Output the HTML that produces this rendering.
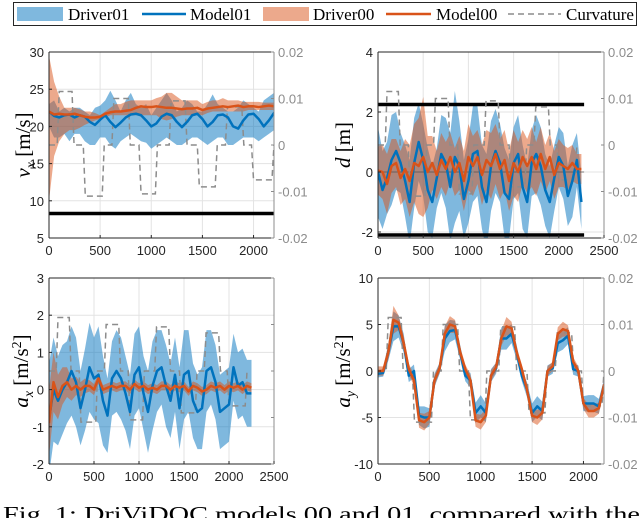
<!DOCTYPE html>
<html><head><meta charset="utf-8"><style>
html,body{margin:0;padding:0;background:#fff;overflow:hidden}
svg{display:block}
.tk{font-family:"Liberation Sans",sans-serif;font-size:13px}
</style></head><body>
<svg id="fig" width="640" height="518" viewBox="0 0 640 518" xmlns="http://www.w3.org/2000/svg">
<g>
<rect x="13.5" y="2.5" width="623" height="23" fill="#fff" stroke="#262626" stroke-width="1"/>
<rect x="17" y="7" width="46" height="14" fill="#0072bd" fill-opacity="0.5"/>
<text x="68" y="20" font-family="Liberation Serif,serif" font-size="17">Driver01</text>
<line x1="142" y1="14" x2="186" y2="14" stroke="#0072bd" stroke-width="2.5"/>
<text x="190" y="20" font-family="Liberation Serif,serif" font-size="17">Model01</text>
<rect x="263" y="7" width="46" height="14" fill="#d95319" fill-opacity="0.5"/>
<text x="313" y="20" font-family="Liberation Serif,serif" font-size="17">Driver00</text>
<line x1="386" y1="14" x2="431" y2="14" stroke="#d95319" stroke-width="2.5"/>
<text x="436" y="20" font-family="Liberation Serif,serif" font-size="17">Model00</text>
<line x1="508" y1="14" x2="561" y2="14" stroke="#8c8c8c" stroke-width="1.5" stroke-dasharray="6,4"/>
<text x="566" y="20" font-family="Liberation Serif,serif" font-size="17">Curvature</text>
</g>
<text x="3" y="521" font-family="Liberation Serif,serif" font-size="21" textLength="637" lengthAdjust="spacingAndGlyphs">Fig. 1: DriViDOC models 00 and 01, compared with the</text>
</svg>
<script>
const t = [0,50,100,150,200,250,300,350,400,450,500,550,600,650,700,750,800,850,900,950,1000,1050,1100,1150,1200,1250,1300,1350,1400,1450,1500,1550,1600,1650,1700,1750,1800,1850,1900,1950,2000,2050,2100,2150,2200,2250];
const curvT = [0,80,100,225,245,335,355,520,540,615,635,775,795,880,900,1040,1060,1175,1195,1330,1350,1450,1470,1625,1645,1725,1745,1885,1905,1980,2000,2180,2200];
const curvV = [0,0,0.0115,0.0115,0,0,-0.011,-0.011,0,0,0.01,0.01,0,0,-0.0105,-0.0105,0,0,0.0095,0.0095,0,0,-0.009,-0.009,0,0,0.0082,0.0082,0,0,-0.0075,-0.0075,0];

const vxModel01 = [22.0,21.4,21.2,21.5,21.6,21.2,21.5,21.3,20.6,20.2,20.9,21.5,20.6,19.9,20.5,21.2,21.6,21.7,21.5,20.8,20.0,20.4,21.3,21.7,21.5,20.6,19.9,20.6,21.5,21.7,21.0,20.0,20.6,21.5,21.6,21.2,20.0,19.7,20.8,21.6,21.7,21.0,20.0,20.8,21.8,21.8];
const vxDriver01Hi = [23,23.5,22,22.5,22,22.5,22.5,22,21.5,22.5,22.8,23.5,24.8,23.5,22,23.5,24.5,23,22.5,23,21.5,22.5,23.5,24.5,23.5,22,22.5,23.5,23,22,22,23,24.3,23,22.5,22,22,22.5,23.5,23,22.5,22,23.5,24,24.5,24.5];
const vxDriver01Lo = [20,18.5,18.5,19,18,19,19,18,17.5,17.5,18.5,18.5,17.5,17,18,18.5,19,18.5,18,17.8,17,17.5,18,18.5,18,17.5,17.5,18,18.5,18.5,18,17.5,18,18.5,18.5,17.5,17.5,18,18.5,18.5,18.5,18,18.5,19,19.5,19.5];
const vxModel00 = [22,21.6,21.7,21.6,21.6,21.7,21.5,21.3,21.2,21.2,21.3,21.7,21.9,22,22,22.1,22.2,22.5,22.7,22.6,22.6,22.7,22.6,22.5,22.5,22.4,22.3,22.4,22.4,22.5,22.2,22.4,22.5,22.6,22.7,22.6,22.7,22.8,22.6,22.7,22.7,22.6,22.7,22.8,22.7,22.7];
const vxDriver00Hi = [29.5,26,24,22.5,22.5,22.5,22.3,22,22,21.8,21.5,22,22.5,23,23,23.3,23.5,23.5,23.5,23.5,23.5,23.8,24,24.5,24.5,24,23.5,23.5,23.5,23.5,23,23.3,23.5,23.5,23.8,23.5,23.5,23.5,23.3,23.3,23.3,23.3,23.2,23.2,23.2,23.2];
const vxDriver00Lo = [10,16,18,19,19.5,19.5,19.8,20.2,20.5,20.8,21,21.2,21.5,21.5,21.5,21.5,21.5,21.5,21.5,21.5,21.5,21.5,21,20.8,21,21.3,21.5,21.5,21.5,21.5,21.5,21.8,22,22,22,22,22,22,22,22.2,22.2,22.2,22.2,22.2,22.2,22.2];

const dModel01 = [0,-0.6,-0.2,0.4,0.7,0.3,-0.3,-1.0,0.3,1.0,0.4,-0.6,-1.0,-0.2,0.6,0.3,-0.5,0.5,0.2,-0.9,-0.3,0.6,0.7,-0.5,-1.0,0.2,0.7,0.3,-0.7,-0.9,0.3,0.6,-0.5,-1.0,0.3,0.6,0.2,-0.6,-1.0,-0.2,0.5,0.2,-0.8,-0.3,0.4,-1.0];
const dSpread01 = [1.5,1.3,1.2,1.5,1.3,1.0,1.2,1.4,1.5,1.3,1.2,1.4,1.2,1.0,1.3,1.5,1.8,2.2,1.5,1.3,1.4,1.6,1.5,1.4,1.6,1.5,1.4,1.3,1.5,1.3,1.2,1.3,1.4,1.2,1.1,1.3,1.3,1.2,1.2,1.1,1.0,1.1,1.0,1.2,0.9,0.9];
const dModel00 = [0.05,0,-0.4,0.2,0.3,-0.2,0.1,-0.3,0.3,0.2,0.5,0,0.3,-0.1,0.4,0.1,0.5,0,0.3,-0.3,0.5,0.2,0.5,-0.1,0.4,0.2,0.6,0.1,0.4,-0.3,0.3,0,0.5,0.2,0.5,0.1,0.6,0.1,0.5,-0.1,0.3,0.2,0.1,0.3,0.1,0.1];
const dSpread00 = [0.8,0.9,1.0,0.9,0.8,0.9,1.0,1.2,1.3,1.6,2.0,1.2,0.9,0.8,0.9,0.9,0.8,0.8,0.9,1.0,1.1,1.0,0.9,1.0,1.0,1.1,1.0,1.0,1.0,1.0,1.1,1.0,0.9,0.9,1.0,0.9,0.9,0.8,0.8,0.8,0.8,0.7,0.7,0.6,0.5,0.5];

const axModel01 = [-0.8,0,-0.3,0,0.2,0.5,0.2,-0.5,0,0.6,0.3,0.4,-0.3,-0.7,0.3,0.5,0.3,-0.1,-0.6,0.4,0.6,-0.1,-0.6,0.1,0.5,0.6,0.1,-0.3,0.4,-0.5,0.4,0.5,-0.3,-0.6,-0.5,0.5,0.6,0.2,-0.6,-0.5,-0.4,0.6,0.1,0.2,-0.1,-0.1];
const axSpread01 = [1.5,1.4,1.2,1.2,1.1,1.2,1.2,1.0,1.1,1.2,1.1,1.3,1.2,1.0,1.0,1.1,1.1,1.0,1.0,1.1,1.1,1.0,1.1,1.2,1.1,1.0,1.1,1.0,1.0,1.1,1.2,1.1,1.0,1.0,1.1,1.1,1.0,1.0,1.0,1.0,1.0,0.9,0.9,0.9,0.9,0.9];
const axModel00 = [-0.9,0.2,-0.2,0.1,0.2,0,0.1,0,0.1,0.1,0,0.3,0,0.05,0.1,0.05,0.1,0.1,0,0.15,0.05,0.1,0,0.05,0,0.1,0.1,0,0.1,0.05,0.1,-0.05,0.1,0.05,-0.05,0,0.1,0.05,0.1,0,0.1,0.05,0.1,0,0.1,0.05];
const axSpread00 = [0.9,0.8,0.6,0.5,0.4,0.3,0.25,0.2,0.2,0.15,0.15,0.15,0.12,0.12,0.12,0.12,0.12,0.12,0.12,0.12,0.12,0.12,0.12,0.12,0.12,0.12,0.12,0.12,0.12,0.12,0.12,0.12,0.12,0.12,0.12,0.12,0.12,0.12,0.12,0.12,0.12,0.12,0.12,0.12,0.12,0.12];

const ayModel00 = [0,0,2,5.5,5.2,3,0.2,-1,-5.3,-5.5,-5,-1,0.3,4,5,4.8,2,0.2,-1,-5.3,-5.5,-4.8,-0.5,0.4,3.5,4.8,4.6,2,0.2,-2,-4.8,-5,-4.5,0,0.5,4,4.5,4.3,1,0,-3.5,-4.3,-4.3,-4.0,-1.5,-1.5];
const aySpread00 = [0.5,0.5,0.8,1.5,0.8,0.8,0.6,0.6,0.8,0.9,0.7,0.6,0.5,0.8,0.9,0.7,0.6,0.5,0.6,0.7,0.8,0.7,0.6,0.5,0.8,1.0,0.7,0.6,0.5,0.6,0.7,0.8,0.7,0.5,0.5,0.7,0.8,0.6,0.5,0.5,0.6,0.7,0.7,0.6,0.5,0.5];
const ayModel01 = [-0.3,-0.2,2,4.8,4.8,3,-0.5,0,-4.8,-5,-5,-1,0.3,3.5,4.3,4.4,2,-0.5,-1,-4.5,-3.8,-4.5,-0.5,0.3,3.5,3.5,4,2,-0.5,-2,-4.5,-3.8,-4.3,0,0.3,3,3.3,3.8,0.2,0,-3.5,-3.5,-3.5,-3.8,-1.5,-1.5];
const aySpread01 = [0.4,0.4,0.9,1.6,1.2,1.0,0.7,0.7,1.0,1.2,1.0,0.7,0.6,1.4,1.2,1.0,0.8,0.6,0.8,1.1,1.2,1.0,0.7,0.6,1.2,1.2,1.0,0.8,0.6,0.8,1.0,1.1,1.0,0.6,0.6,1.0,1.0,0.9,0.6,0.6,0.8,0.9,0.9,0.8,0.6,0.6];

const xTicksA = [0,500,1000,1500,2000];
const xTicksB = [0,500,1000,1500,2000,2500];
const rightTicks = [0.02,0.01,0,-0.01,-0.02];
const rightTickLabels = ['0.02','0.01','0','-0.01','-0.02'];

const NS = 'http://www.w3.org/2000/svg';
const svg = document.getElementById('fig');
function el(tag, attrs, parent){const e=document.createElementNS(NS,tag);for(const k in attrs)e.setAttribute(k,attrs[k]);(parent||svg).appendChild(e);return e;}

function panel(cfg, idx){
  const g = el('g',{});
  
  
  const X = v => cfg.x0 + (v - cfg.xd[0])/(cfg.xd[1]-cfg.xd[0])*(cfg.x1-cfg.x0);
  const Y = v => cfg.y1 - (v - cfg.yd[0])/(cfg.yd[1]-cfg.yd[0])*(cfg.y1-cfg.y0);
  const YR = v => cfg.y1 - (v + 0.02)/0.04*(cfg.y1-cfg.y0);
  const cid = 'clip'+idx;
  const cp = el('clipPath',{id:cid},g);
  el('rect',{x:cfg.x0,y:cfg.y0,width:cfg.x1-cfg.x0,height:cfg.y1-cfg.y0},cp);
  // grid
  const grid = el('g',{stroke:'#e3e3e3','stroke-width':1},g);
  
  
  cfg.xt.forEach(v=>{ if(v>cfg.xd[0]&&v<=cfg.xd[1]) el('line',{x1:X(v),x2:X(v),y1:cfg.y0,y2:cfg.y1},grid);});
  cfg.yt.forEach(v=>{ el('line',{x1:cfg.x0,x2:cfg.x1,y1:Y(v),y2:Y(v)},grid);});
  const plot = el('g',{'clip-path':'url(#'+cid+')'},g);
  function band(mean, spread, lo, hi, color, name){
    let pts=[];
    for(let i=0;i<t.length;i++) pts.push(X(t[i])+','+Y(hi?hi[i]:mean[i]+spread[i]));
    for(let i=t.length-1;i>=0;i--) pts.push(X(t[i])+','+Y(lo?lo[i]:mean[i]-spread[i]));
    const p = el('polygon',{points:pts.join(' '),fill:color,'fill-opacity':0.5,stroke:'none'},plot);
    
    
  }
  function line(vals, color, name){
    const p = el('polyline',{points:t.map((v,i)=>X(v)+','+Y(vals[i])).join(' '),fill:'none',stroke:color,'stroke-width':2.5,'stroke-linejoin':'round'},plot);
    
    
  }
  cfg.bands.forEach(b=>band(b.m,b.s,b.lo,b.hi,b.c,b.n));
  if(cfg.hlines) cfg.hlines.forEach(h=>{
    const l=el('line',{x1:cfg.x0,x2:X(cfg.hlEnd),y1:Y(h),y2:Y(h),stroke:'#000','stroke-width':3.5},plot);
    
    
  });
  if(cfg.zeroLine){ const z=el('line',{x1:cfg.x0,x2:X(cfg.hlEnd),y1:Y(0),y2:Y(0),stroke:'#555','stroke-width':0.8},plot);
      }
  const cur = el('polyline',{points:curvT.map((v,i)=>X(v)+','+YR(curvV[i])).join(' '),fill:'none',stroke:'#8c8c8c','stroke-width':1.5,'stroke-dasharray':'6,4'},plot);
  
  
  cfg.lines.forEach(l=>line(l.v,l.c,l.n));
  // axes
  el('line',{x1:cfg.x0,x2:cfg.x0,y1:cfg.y0,y2:cfg.y1,stroke:'#262626','stroke-width':1},g);
  el('line',{x1:cfg.x0,x2:cfg.x1,y1:cfg.y1,y2:cfg.y1,stroke:'#262626','stroke-width':1},g);
  el('line',{x1:cfg.x0,x2:cfg.x1,y1:cfg.y0,y2:cfg.y0,stroke:'#262626','stroke-width':1},g);
  el('line',{x1:cfg.x1,x2:cfg.x1,y1:cfg.y0,y2:cfg.y1,stroke:'#8c8c8c','stroke-width':1},g);
  cfg.xt.forEach(v=>{ if(v>cfg.xd[1])return; el('line',{x1:X(v),x2:X(v),y1:cfg.y1,y2:cfg.y1-3,stroke:'#262626'},g);
    const tx=el('text',{x:X(v),y:cfg.y1+17,'text-anchor':'middle','class':'tk',fill:'#262626'},g); tx.textContent=v;
     });
  cfg.yt.forEach((v,i)=>{ el('line',{x1:cfg.x0,x2:cfg.x0+3,y1:Y(v),y2:Y(v),stroke:'#262626'},g);
    const tx=el('text',{x:cfg.x0-5,y:Y(v)+5,'text-anchor':'end','class':'tk',fill:'#262626'},g); tx.textContent=cfg.ytl[i];
     });
  rightTicks.forEach((v,i)=>{ el('line',{x1:cfg.x1,x2:cfg.x1-3,y1:YR(v),y2:YR(v),stroke:'#8c8c8c'},g);
    if(cfg.rightLabels){ const tx=el('text',{x:cfg.x1+4,y:YR(v)+5,'class':'tk',fill:'#8c8c8c'},g); tx.textContent=rightTickLabels[i];
     }});
  const lab = el('text',{transform:'translate('+cfg.lx+','+((cfg.y0+cfg.y1)/2)+') rotate(-90)','text-anchor':'middle','font-family':'Liberation Serif,serif','font-size':21,fill:'#000'},g);
  
  
  lab.innerHTML = cfg.label;
}
const B01='#0072bd', B00='#d95319';
panel({name:'vx-panel',x0:49,x1:274,y0:52,y1:238,xd:[0,2200],yd:[5,30],xt:xTicksA,yt:[5,10,15,20,25,30],ytl:['5','10','15','20','25','30'],rightLabels:true,lx:30,
  label:'<tspan font-style="italic">v</tspan><tspan font-style="italic" font-size="14" dy="5">x</tspan><tspan dy="-5"> [m/s]</tspan>',
  bands:[{hi:vxDriver01Hi,lo:vxDriver01Lo,c:B01,n:'driver01-band'},{hi:vxDriver00Hi,lo:vxDriver00Lo,c:B00,n:'driver00-band'}],
  lines:[{v:vxModel01,c:B01,n:'model01-line'},{v:vxModel00,c:B00,n:'model00-line'}],hlines:[8.3],hlEnd:2200},0);
panel({name:'d-panel',x0:378,x1:604,y0:52,y1:238,xd:[0,2500],yd:[-2.2,4],xt:xTicksB,yt:[-2,0,2,4],ytl:['-2','0','2','4'],rightLabels:true,lx:350,
  label:'<tspan font-style="italic">d</tspan> [m]',
  bands:[{m:dModel01,s:dSpread01,c:B01,n:'driver01-band'},{m:dModel00,s:dSpread00,c:B00,n:'driver00-band'}],
  lines:[{v:dModel01,c:B01,n:'model01-line'},{v:dModel00,c:B00,n:'model00-line'}],hlines:[2.25,-2.1],hlEnd:2280,zeroLine:true},1);
panel({name:'ax-panel',x0:49,x1:274,y0:278,y1:464,xd:[0,2500],yd:[-2,3],xt:xTicksB,yt:[-2,-1,0,1,2,3],ytl:['-2','-1','0','1','2','3'],rightLabels:false,lx:28,
  label:'<tspan font-style="italic">a</tspan><tspan font-style="italic" font-size="14" dy="5">x</tspan><tspan dy="-5"> [m/s</tspan><tspan font-size="14" dy="-7">2</tspan><tspan dy="7">]</tspan>',
  bands:[{m:axModel01,s:axSpread01,c:B01,n:'driver01-band'},{m:axModel00,s:axSpread00,c:B00,n:'driver00-band'}],
  lines:[{v:axModel01,c:B01,n:'model01-line'},{v:axModel00,c:B00,n:'model00-line'}]},2);
panel({name:'ay-panel',x0:378,x1:604,y0:278,y1:464,xd:[0,2200],yd:[-10,10],xt:xTicksA,yt:[-10,-5,0,5,10],ytl:['-10','-5','0','5','10'],rightLabels:true,lx:350,
  label:'<tspan font-style="italic">a</tspan><tspan font-style="italic" font-size="14" dy="5">y</tspan><tspan dy="-5"> [m/s</tspan><tspan font-size="14" dy="-7">2</tspan><tspan dy="7">]</tspan>',
  bands:[{m:ayModel01,s:aySpread01,c:B01,n:'driver01-band'},{m:ayModel00,s:aySpread00,c:B00,n:'driver00-band'}],
  lines:[{v:ayModel01,c:B01,n:'model01-line'},{v:ayModel00,c:B00,n:'model00-line'}]},3);
</script>
</body></html>
